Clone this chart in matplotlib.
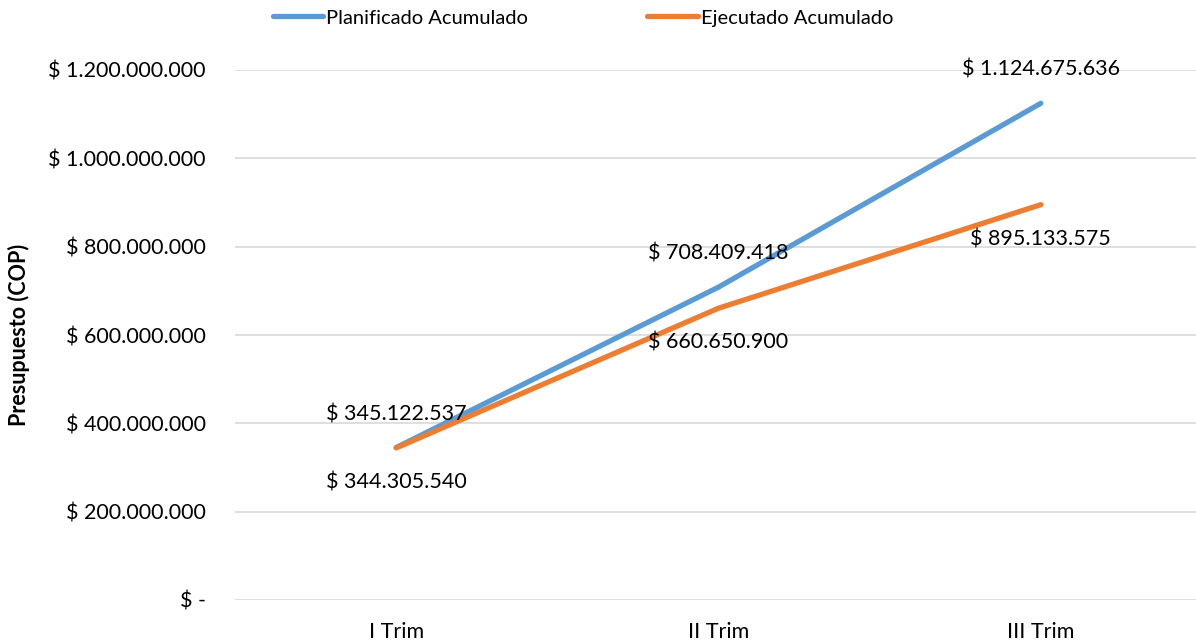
import matplotlib
matplotlib.use("Agg")
import matplotlib.pyplot as plt

plt.rcParams['font.family'] = ['Lato', 'DejaVu Sans']

categories = ["I Trim", "II Trim", "III Trim"]
planificado = [345122537, 708409418, 1124675636]
ejecutado = [344305540, 660650900, 895133575]
yticks = [0, 200000000, 400000000, 600000000, 800000000, 1000000000, 1200000000]

def fmt(v):
    if v == 0:
        return "$ -"
    return "$ " + f"{v:,.0f}".replace(",", ".")

fig = plt.figure(figsize=(11.96, 6.44), dpi=100)
ax = fig.add_axes([235/1196, 44/644, (1202-235)/1196, 530/644])

x = list(range(len(categories)))
blue = "#5B9BD5"
orange = "#ED7D31"
ax.plot(x, planificado, color=blue, lw=3.8, solid_capstyle='round', label="Planificado Acumulado", zorder=3)
ax.plot(x, ejecutado, color=orange, lw=3.8, solid_capstyle='round', label="Ejecutado Acumulado", zorder=4)

for xi, v in zip(x, planificado):
    ax.annotate(fmt(v), (xi, v), xytext=(0, 24), textcoords='offset points',
                ha='center', va='center', fontsize=15.5, color='black', zorder=5)
for xi, v in zip(x, ejecutado):
    ax.annotate(fmt(v), (xi, v), xytext=(0, -25), textcoords='offset points',
                ha='center', va='center', fontsize=15.5, color='black', zorder=5)

ax.set_xlim(-0.5, 2.5)
ax.set_ylim(0, 1200000000)
ax.set_yticks(yticks)
ax.set_yticklabels([fmt(v) for v in yticks], fontsize=15.5)
ax.set_xticks(x)
ax.set_xticklabels(categories, fontsize=15.5)
ax.tick_params(axis='both', length=0)
ax.tick_params(axis='x', pad=16)
ax.tick_params(axis='y', pad=21)
ax.grid(axis='y', color='#D9D9D9', lw=1.2)
ax.set_axisbelow(True)
for s in ax.spines.values():
    s.set_visible(False)

fig.text(19/1196, 1 - 335/644, "Presupuesto (COP)", rotation=90, ha='center', va='center',
         fontsize=15.5, fontweight='bold')

fig.legend(loc='center', bbox_to_anchor=(583/1196, 1 - 18/644), ncol=2, frameon=False,
           fontsize=14.5, handlelength=2.5, handletextpad=0.15, columnspacing=5.9)

fig.savefig("out.png", dpi=100)
